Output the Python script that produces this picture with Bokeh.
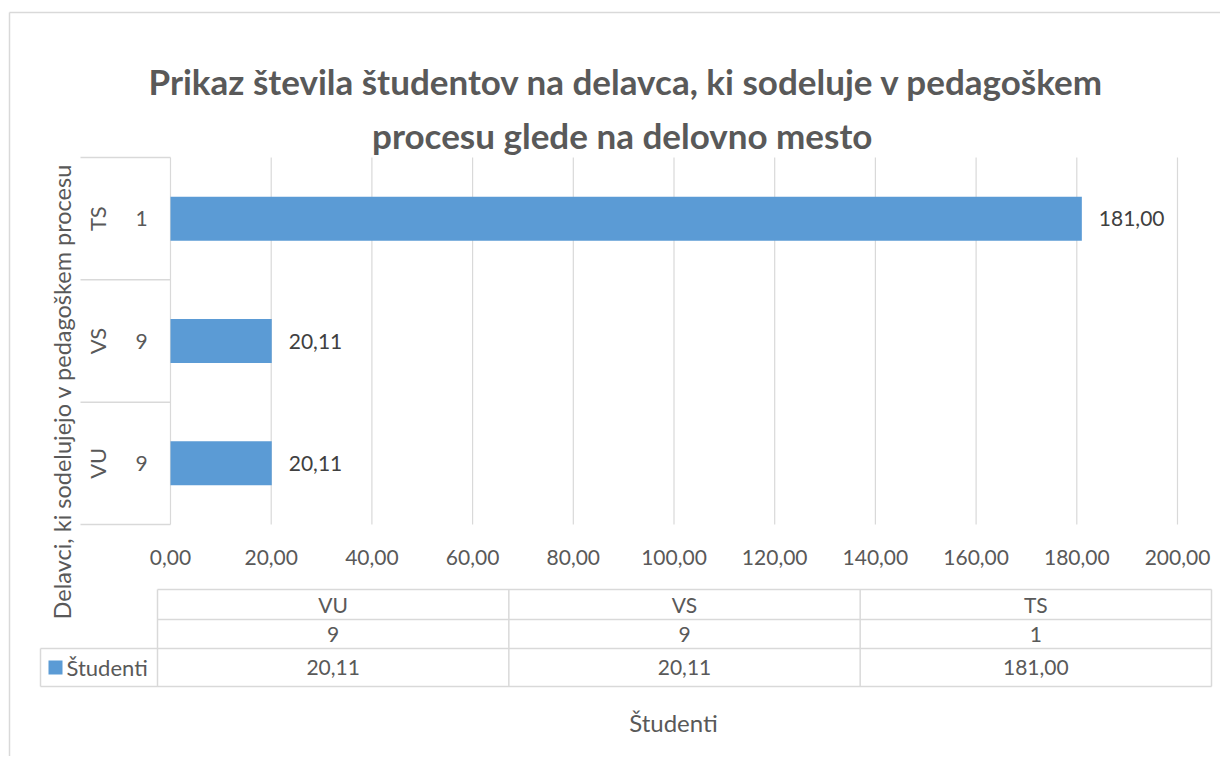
import math
from bokeh.plotting import figure
from bokeh.models import Range1d, ColumnDataSource
from bokeh.core.properties import value
from bokeh.embed import file_html
from bokeh.resources import INLINE

# ---------------- data ----------------
title_lines = ["Prikaz števila študentov na delavca, ki sodeluje v pedagoškem",
               "procesu glede na  delovno mesto"]
categories = ["VU", "VS", "TS"]          # bottom to top
counts = ["9", "9", "1"]
students = [20.11, 20.11, 181.00]
x_ticks = [0, 20, 40, 60, 80, 100, 120, 140, 160, 180, 200]
series_name = "Študenti"
x_title = "Študenti"
y_title = "Delavci, ki sodelujejo v pedagoškem procesu"


def fmt(v):
    return f"{v:.2f}".replace(".", ",")


# ---------------- layout (page pixel geometry) ----------------
W, H = 1220, 756
OX, OY = 0, 0
X0_PX, X200_PX = 170, 1177
Y_TOP_PX, Y_BOT_PX = 157, 524
SX = (X200_PX - X0_PX) / 200.0
BAND = (Y_BOT_PX - Y_TOP_PX) / len(categories)


def to_x(px):
    return (px - X0_PX) / SX


def to_y(py):
    return -0.5 + (Y_BOT_PX - py) / BAND


FONT = value("Lato")
GREY = "#595959"
LINE = "#d9d9d9"
BAR = "#5b9bd5"

p = figure(width=W, height=H,
           x_range=Range1d(to_x(OX), to_x(OX + W)),
           y_range=Range1d(to_y(OY + H), to_y(OY)),
           output_backend="svg", toolbar_location=None,
           x_axis_location=None, y_axis_location=None,
           min_border=0, outline_line_color=None,
           background_fill_color="white", border_fill_color="white")
p.grid.grid_line_color = None
p.extra_x_ranges = {"px": Range1d(OX, OX + W)}
p.extra_y_ranges = {"px": Range1d(OY + H, OY)}

# outer chart border
p.segment(x0=[9, 9], y0=[12, 12], x1=[1228, 9], y1=[12, 764],
          x_range_name="px", y_range_name="px", line_color=LINE, line_width=1.5)

# title
p.text(x=[626, 626], y=[80, 134], text=title_lines, x_range_name="px", y_range_name="px",
       text_font=FONT, text_font_style="bold", text_font_size="35px", text_color=GREY,
       text_align="center", text_baseline="middle")

# gridlines (vertical) incl. axis at 0
n = len(categories)
p.segment(x0=x_ticks, x1=x_ticks, y0=[-0.5] * len(x_ticks), y1=[n - 0.5] * len(x_ticks),
          line_color=LINE, line_width=1.2)

# category box lines on the left
edges = [i - 0.5 for i in range(n + 1)]
p.segment(x0=[to_x(80)] * len(edges), x1=[0] * len(edges), y0=edges, y1=edges,
          line_color=LINE, line_width=1.5)

# tick labels
p.text(x=x_ticks, y=[to_y(557)] * len(x_ticks), text=[fmt(t) for t in x_ticks],
       text_font=FONT, text_font_size="21px", text_color=GREY,
       text_align="center", text_baseline="middle")

# bars
idx = list(range(n))
src = ColumnDataSource(dict(y=idx, v=students, lab=[fmt(v) for v in students],
                            cat=categories, cnt=counts))
p.hbar(y="y", left=0, right="v", height=0.36, source=src, fill_color=BAR, line_color=None)
p.text(x="v", y="y", text="lab", source=src, x_offset=17,
       text_font=FONT, text_font_size="21px", text_color="#404040",
       text_align="left", text_baseline="middle")

# category labels
p.text(x=to_x(97), y="y", text="cat", source=src, angle=math.pi / 2,
       text_font=FONT, text_font_size="22px", text_color=GREY,
       text_align="center", text_baseline="middle")
p.text(x=to_x(141), y="y", text="cnt", source=src,
       text_font=FONT, text_font_size="21px", text_color=GREY,
       text_align="center", text_baseline="middle")

# y axis title
p.text(x=[61], y=[391], text=[y_title], x_range_name="px", y_range_name="px", angle=math.pi / 2,
       text_font=FONT, text_font_size="23.5px", text_color=GREY,
       text_align="center", text_baseline="middle")

# data table
T_L, T_R = 157, 1211
rows = [589, 619, 648, 686]
LEG_L = 40
col_w = (T_R - T_L) / n
col_edges = [T_L + i * col_w for i in range(n + 1)]
p.segment(x0=[T_L, T_L, LEG_L, LEG_L], x1=[T_R] * 4, y0=rows, y1=rows,
          x_range_name="px", y_range_name="px", line_color=LINE, line_width=1.5)
p.segment(x0=col_edges, x1=col_edges, y0=[rows[0]] * len(col_edges), y1=[rows[-1]] * len(col_edges),
          x_range_name="px", y_range_name="px", line_color=LINE, line_width=1.5)
p.segment(x0=[LEG_L], x1=[LEG_L], y0=[rows[2]], y1=[rows[3]],
          x_range_name="px", y_range_name="px", line_color=LINE, line_width=1.5)
centers = [T_L + (i + 0.5) * col_w for i in range(n)]
row_mid = [(rows[0] + rows[1]) / 2, (rows[1] + rows[2]) / 2, (rows[2] + rows[3]) / 2]
p.text(x=centers * 3, y=[row_mid[0]] * n + [row_mid[1]] * n + [row_mid[2]] * n,
       text=categories + counts + [fmt(v) for v in students],
       x_range_name="px", y_range_name="px",
       text_font=FONT, text_font_size="21px", text_color=GREY,
       text_align="center", text_baseline="middle")
# legend key in table
p.rect(x=[55], y=[667], width=14, height=14, x_range_name="px", y_range_name="px",
       fill_color=BAR, line_color=None)
p.text(x=[66], y=[row_mid[2]], text=[series_name], x_range_name="px", y_range_name="px",
       text_font=FONT, text_font_size="22px", text_color=GREY,
       text_align="left", text_baseline="middle")

# x axis title
p.text(x=[673], y=[722], text=[x_title], x_range_name="px", y_range_name="px",
       text_font=FONT, text_font_size="24px", text_color=GREY,
       text_align="center", text_baseline="middle")

open("out.html", "w").write(file_html(p, INLINE))
